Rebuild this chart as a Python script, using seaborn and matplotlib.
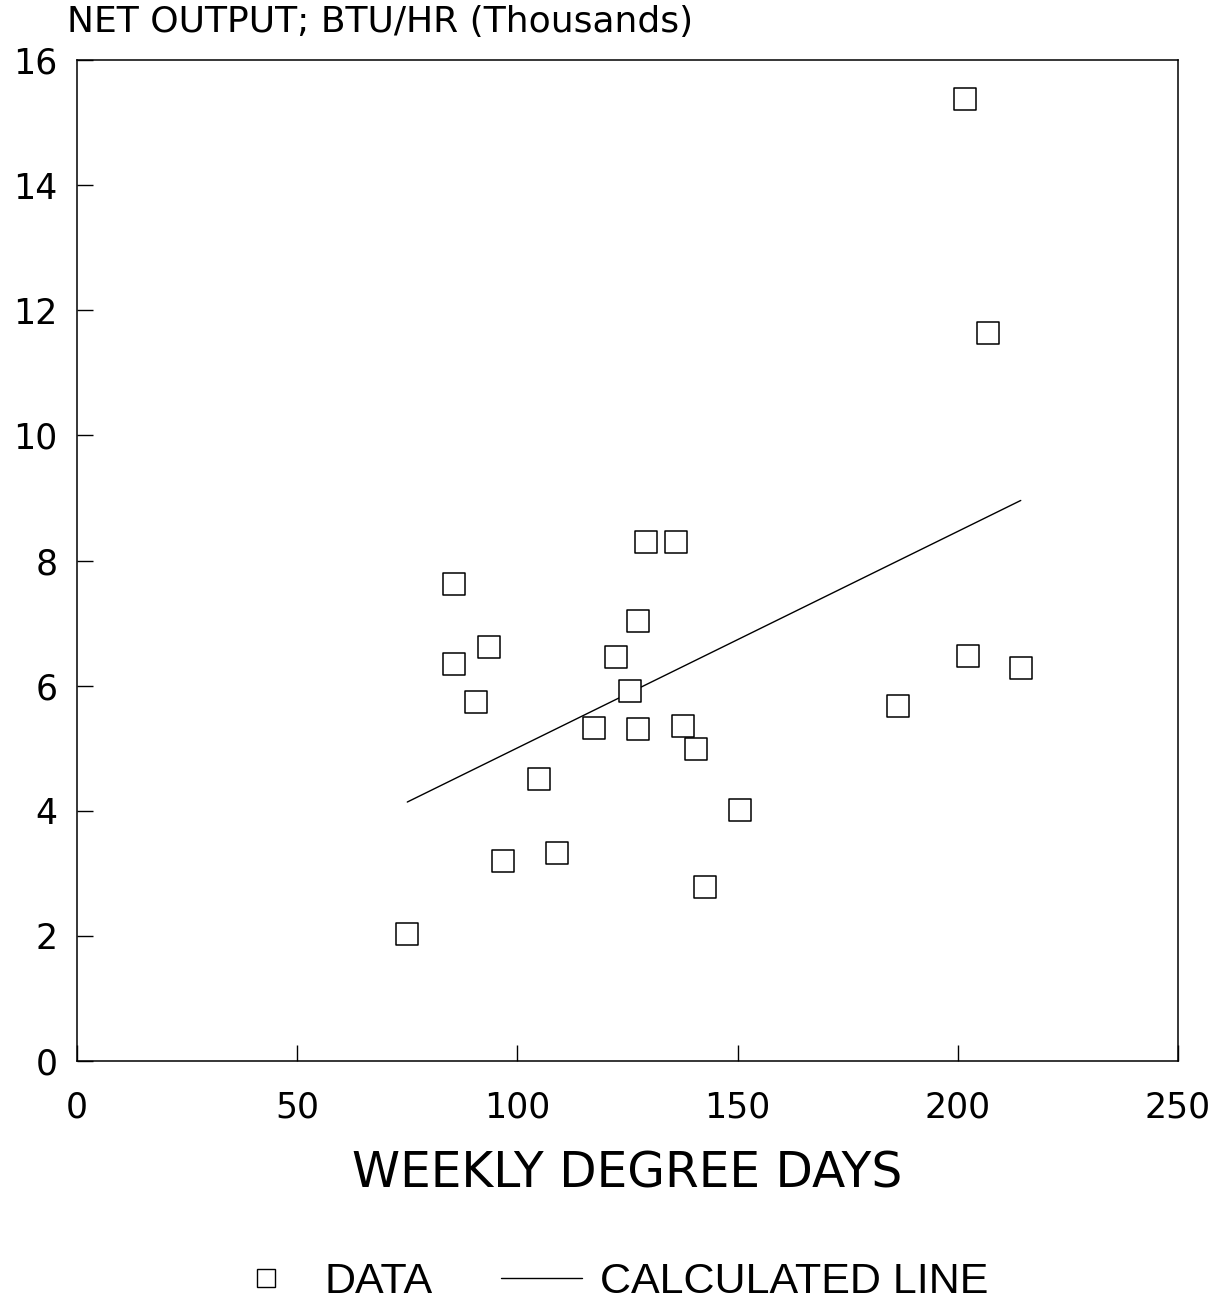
import matplotlib
matplotlib.use("Agg")
import matplotlib.pyplot as plt
import seaborn as sns
import pandas as pd
from matplotlib.lines import Line2D

degree_days = [75, 85.5, 85.5, 93.6, 90.7, 96.8, 104.8, 108.9, 117.5, 122.3, 125.5,
               127.3, 127.3, 129.3, 136.1, 137.5, 140.5, 142.5, 150.5, 186.4, 201.6,
               202.3, 206.8, 214.3]
net_output = [2.03, 7.63, 6.34, 6.61, 5.74, 3.2, 4.51, 3.33, 5.33, 6.46, 5.92,
              7.04, 5.30, 8.29, 8.29, 5.36, 4.99, 2.78, 4.02, 5.68, 15.38,
              6.48, 11.63, 6.29]
line_x = [75, 214.3]
line_y = [4.14, 8.96]

x_ticks = [0, 50, 100, 150, 200, 250]
y_ticks = [0, 2, 4, 6, 8, 10, 12, 14, 16]

sns.set_theme(style="white")
plt.rcParams['font.family'] = ['DejaVu Sans']

df = pd.DataFrame({"x": degree_days, "y": net_output})
line_df = pd.DataFrame({"x": line_x, "y": line_y})

fig = plt.figure(figsize=(12.24, 13.04), dpi=100)
ax = fig.add_axes([0.0629, 0.1863, 0.8995, 0.7677])

sns.scatterplot(data=df, x="x", y="y", ax=ax, marker="s", s=230,
                facecolor="white", edgecolor="black", linewidth=1.1, zorder=3)
sns.lineplot(data=line_df, x="x", y="y", ax=ax, color="black", linewidth=1.0)

ax.set_xlim(0, 250)
ax.set_ylim(0, 16)
ax.set_xticks(x_ticks)
ax.set_yticks(y_ticks)
ax.set_xticklabels([str(t) for t in x_ticks], fontsize=25)
ax.set_yticklabels([str(t) for t in y_ticks], fontsize=25)
ax.tick_params(axis="both", direction="in", length=11.5, width=1, color="black",
               labelcolor="black", bottom=True, left=True, top=False, right=False)
ax.tick_params(axis="x", pad=21)
ax.tick_params(axis="y", pad=14)
for sp in ax.spines.values():
    sp.set_color("black")
    sp.set_linewidth(1.1)

ax.set_xlabel("WEEKLY DEGREE DAYS", fontsize=35, labelpad=18, color="black")
ax.set_ylabel("")
fig.text(0.055, 0.983, "NET OUTPUT; BTU/HR (Thousands)", fontsize=26,
         ha="left", va="center", color="black")

handles = [Line2D([], [], marker="s", linestyle="none", markersize=13,
                  markerfacecolor="white", markeredgecolor="black", markeredgewidth=1.0),
           Line2D([], [], color="black", linewidth=1.0)]
leg = fig.legend(handles, ["DATA", "CALCULATED LINE"], loc="center",
                 bbox_to_anchor=(0.496, 0.017), ncol=2, frameon=False,
                 prop={"family": "Liberation Sans", "size": 31},
                 handlelength=1.86, handletextpad=0.42, columnspacing=1.6)
for t in leg.get_texts():
    t.set_color("black")

fig.savefig("out.png", dpi=100, facecolor="white")
